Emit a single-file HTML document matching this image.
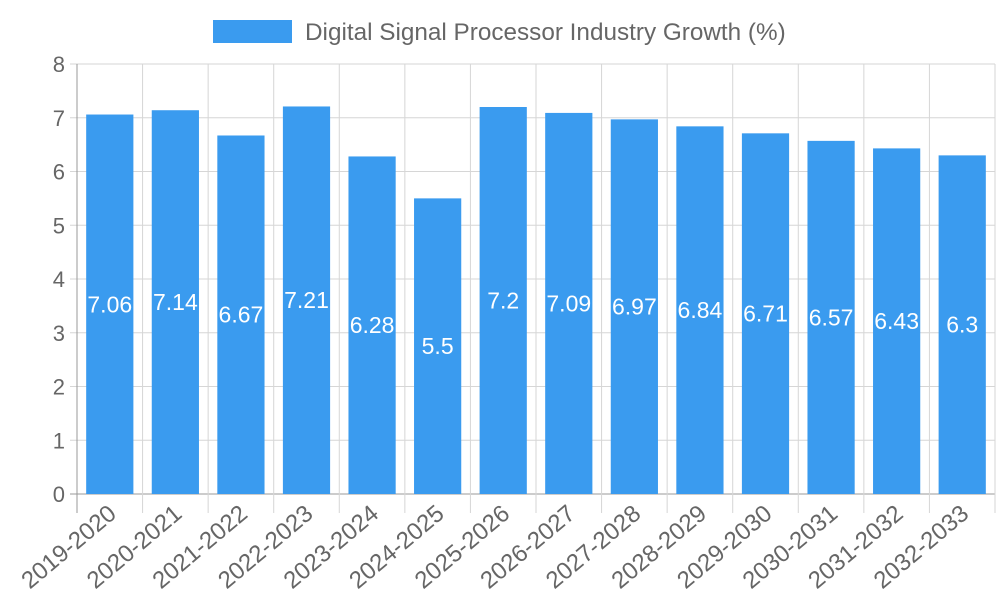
<!DOCTYPE html>
<html><head><meta charset="utf-8"><style>
body{margin:0;background:#fff;}
svg{font-family:"Liberation Sans",sans-serif;}
</style></head><body>
<svg id="chart" width="1000" height="600">
<g>
<rect x="213" y="20" width="79" height="23" fill="#3a9bef"></rect>
<text x="305" y="40" font-size="24.3" fill="#666">Digital Signal Processor Industry Growth (%)</text>
</g>
<g id="grid"></g><g id="bars"></g><g id="labels"></g>
</svg>
<script>
const categories=["2019-2020","2020-2021","2021-2022","2022-2023","2023-2024","2024-2025","2025-2026","2026-2027","2027-2028","2028-2029","2029-2030","2030-2031","2031-2032","2032-2033"];
const values=[7.06,7.14,6.67,7.21,6.28,5.5,7.2,7.09,6.97,6.84,6.71,6.57,6.43,6.3];
const yTicks=[0,1,2,3,4,5,6,7,8];
const NS="http://www.w3.org/2000/svg";
const L=77,R=995,T=64,B=494,yMax=8;
const band=(R-L)/categories.length;
const y=v=>B-v/yMax*(B-T);
const x=i=>L+i*band;
const grid=document.getElementById('grid'),bars=document.getElementById('bars'),labels=document.getElementById('labels');
function mk(tag,attrs,parent){const e=document.createElementNS(NS,tag);for(const k in attrs)e.setAttribute(k,attrs[k]);parent.appendChild(e);return e;}
yTicks.forEach(t=>{
 const ln=mk('line',{x1:L-7,x2:R,y1:y(t),y2:y(t),stroke:t===0?'#999':'#d6d6d6','stroke-width':1},grid);
 
 
 const tx=mk('text',{x:L-12,y:y(t)+8,'text-anchor':'end','font-size':22,fill:'#666'},grid);
 tx.textContent=t;
 
 
});
for(let i=0;i<=categories.length;i++){
 const ln=mk('line',{x1:x(i),x2:x(i),y1:T,y2:B+19,stroke:i===0?'#999':'#d6d6d6','stroke-width':1},grid);
 
 
}
categories.forEach((c,i)=>{
 const cx=x(i)+band/2,bw=band*0.72;
 const r=mk('rect',{x:cx-bw/2,y:y(values[i]),width:bw,height:B-y(values[i]),fill:'#3a9bef'},bars);
 
 
 const v=mk('text',{x:cx,y:(y(values[i])+B)/2+8,'text-anchor':'middle','font-size':23,fill:'#fff'},labels);
 v.textContent=values[i];
 
 
 const tx=mk('text',{x:cx+8,y:B+22,'text-anchor':'end','font-size':24,fill:'#666',transform:`rotate(-40 ${cx+8} ${B+22})`},labels);
 tx.textContent=c;
 
 
});
</script>
</body></html>
